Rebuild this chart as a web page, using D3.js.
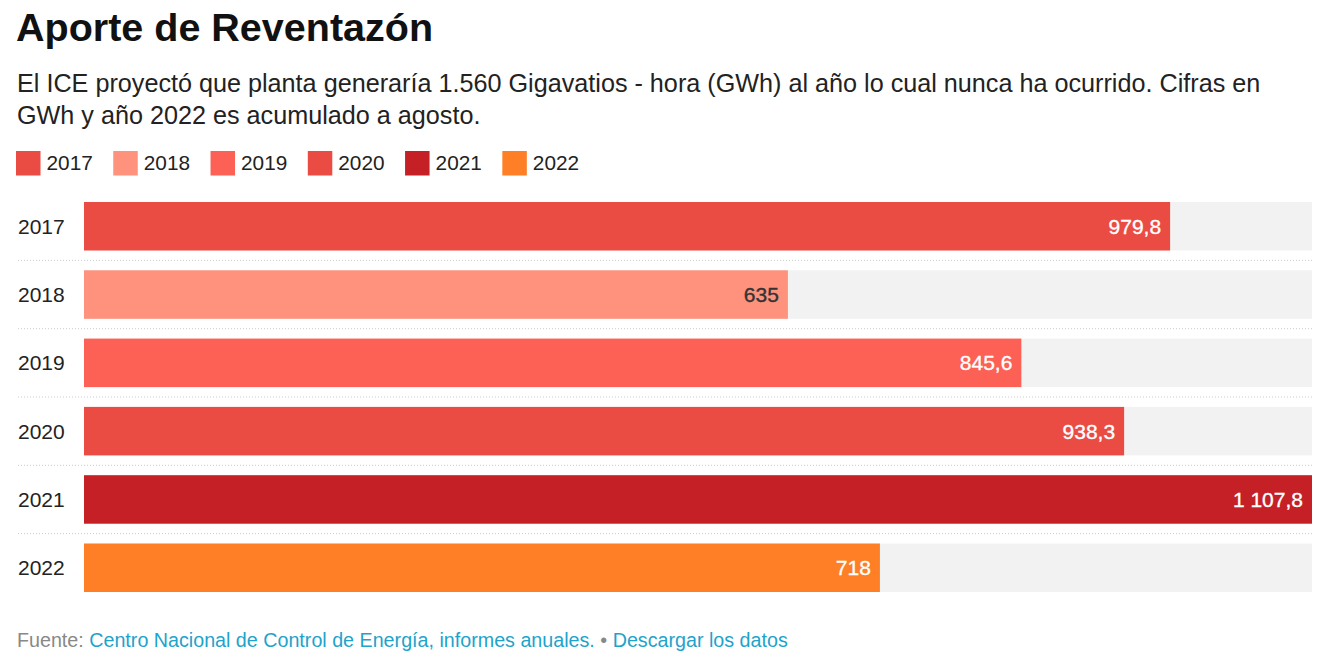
<!DOCTYPE html>
<html>
<head>
<meta charset="utf-8">
<script src="https://cdn.jsdelivr.net/npm/d3@7"></script>
<style>
  body { margin: 0; background: #fff; font-family: "Liberation Sans", Arial, Helvetica, sans-serif; }
</style>
</head>
<body>
<div id="chart"></div>
<script>
// data
const years = ["2017", "2018", "2019", "2020", "2021", "2022"];
const values = [979.8, 635, 845.6, 938.3, 1107.8, 718];
const colors = ["#ea4b43", "#fe927c", "#fd6054", "#ea4c44", "#c42026", "#fe7f25"];
const labelColors = ["#fff", "#333", "#fff", "#fff", "#fff", "#fff"];

const width = 1330, height = 668;
const svg = d3.select("#chart").append("svg")
  .attr("width", width)
  .attr("height", height);

// title + subtitle
svg.append("text")
  .attr("x", 16).attr("y", 41)
  .attr("font-size", 39.5).attr("font-weight", "bold").attr("fill", "#111")
  .text("Aporte de Reventazón");

const sub = ["El ICE proyectó que planta generaría 1.560 Gigavatios - hora (GWh) al año lo cual nunca ha ocurrido. Cifras en",
             "GWh y año 2022 es acumulado a agosto."];
svg.selectAll(".sub").data(sub).enter().append("text")
  .attr("class", "sub")
  .attr("x", 17).attr("y", (d, i) => 92 + i * 31.5)
  .attr("font-size", 25.2).attr("fill", "#222")
  .text(d => d);

// legend
let lx = 16;
years.forEach((y, i) => {
  const g = svg.append("g").attr("transform", `translate(${lx},151)`);
  g.append("rect").attr("width", 24.5).attr("height", 24.5).attr("fill", colors[i]);
  const t = g.append("text").attr("x", 30.5).attr("y", 18.5)
    .attr("font-size", 20.8).attr("fill", "#222").text(y);
  lx += 30.5 + t.node().getComputedTextLength() + 20.5;
});

// scales
const x = d3.scaleLinear().domain([0, d3.max(values)]).range([84, 1312]);
const yScale = d3.scaleBand().domain(years).range([202, 592]).paddingInner(0.29).paddingOuter(0);

// dotted separators between rows
const step = yScale.step();
svg.selectAll(".sep").data(years.slice(1)).enter().append("line")
  .attr("x1", 18).attr("x2", 1312)
  .attr("y1", d => yScale(d) - (step - yScale.bandwidth()) / 2)
  .attr("y2", d => yScale(d) - (step - yScale.bandwidth()) / 2)
  .attr("stroke", "#ccc").attr("stroke-dasharray", "1,2");

// track
svg.selectAll(".track").data(years).enter().append("rect")
  .attr("x", x(0)).attr("width", x.range()[1] - x(0))
  .attr("y", d => yScale(d)).attr("height", yScale.bandwidth())
  .attr("fill", "#f2f2f2");

// bars
svg.selectAll(".bar").data(values).enter().append("rect")
  .attr("x", x(0)).attr("width", d => x(d) - x(0))
  .attr("y", (d, i) => yScale(years[i])).attr("height", yScale.bandwidth())
  .attr("fill", (d, i) => colors[i]);

// year labels
svg.selectAll(".yl").data(years).enter().append("text")
  .attr("x", 18).attr("y", d => yScale(d) + yScale.bandwidth() / 2)
  .attr("dy", "0.36em").attr("font-size", 21).attr("fill", "#222")
  .text(d => d);

// value labels
const fmt = v => {
  const s = d3.format(",.1f")(v).replace(/\.0$/, "");
  return s.replace(/,/g, " ").replace(".", ",");
};
svg.selectAll(".vl").data(values).enter().append("text")
  .attr("x", d => x(d) - 9)
  .attr("y", (d, i) => yScale(years[i]) + yScale.bandwidth() / 2)
  .attr("dy", "0.36em").attr("text-anchor", "end")
  .attr("font-size", 21).attr("fill", (d, i) => labelColors[i])
  .attr("stroke", (d, i) => labelColors[i]).attr("stroke-width", 0.35)
  .text(d => fmt(d));

// footer
const foot = svg.append("text").attr("x", 17).attr("y", 647).attr("font-size", 19.7);
foot.append("tspan").attr("fill", "#888").text("Fuente: ");
foot.append("tspan").attr("fill", "#1ea3cb").text("Centro Nacional de Control de Energía, informes anuales.");
foot.append("tspan").attr("fill", "#888").text(" • ");
foot.append("tspan").attr("fill", "#1ea3cb").text("Descargar los datos");
</script>
</body>
</html>
